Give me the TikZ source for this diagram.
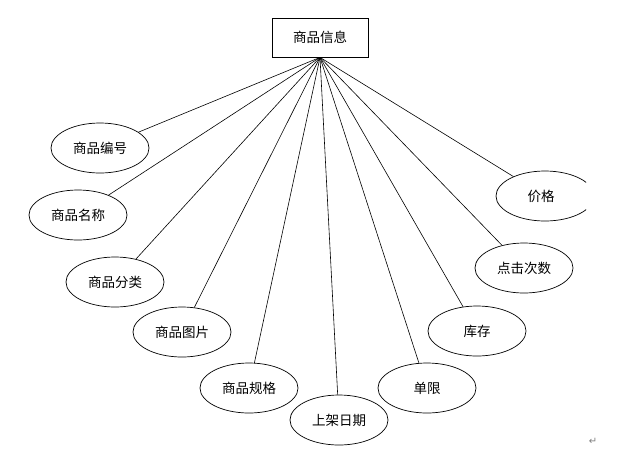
\documentclass[tikz,border=0pt]{standalone}
\usepackage{fontspec}
\newfontfamily\cjk{Noto Sans CJK SC}
\newfontfamily\dv{DejaVu Sans}
\usetikzlibrary{shapes.geometric}
\begin{document}
\begin{tikzpicture}[x=1pt,y=-1pt,
  attr/.style={ellipse,draw,line width=0.7pt,minimum width=98pt,minimum height=50pt,inner sep=0pt,font=\cjk\fontsize{13.5}{15}\selectfont},
  ent/.style={rectangle,draw,line width=0.8pt,minimum width=96pt,minimum height=39pt,inner sep=0pt,font=\cjk\fontsize{13.5}{15}\selectfont},
  conn/.style={line width=0.6pt}]
\useasboundingbox[fill=white] (0,0) rectangle (637,459);
\node[ent] (top) at (320,37.5) {商品信息};
\node[attr] (a1) at (100,148) {商品编号};
\node[attr] (a2) at (78,215) {商品名称};
\node[attr] (a3) at (115,282) {商品分类};
\node[attr] (a4) at (182,332) {商品图片};
\node[attr] (a5) at (249,388) {商品规格};
\node[attr] (a6) at (339,420) {上架日期};
\node[attr] (a7) at (427,388) {单限};
\node[attr] (a8) at (477,331) {库存};
\node[attr] (a9) at (524,268) {点击次数};
\node[attr,draw=none] (a10) at (545,196) {\hspace*{-8pt}价格};
\begin{scope}
  \clip (0,0) rectangle (586,459);
  \draw[line width=0.7pt] (a10.center) ellipse [x radius=49, y radius=25];
\end{scope}
\coordinate (apex) at (top.south);
\foreach \n in {a1,a2,a3,a4,a5,a6,a7,a8,a9,a10}
  \draw[conn] (apex) -- (\n);
\node[text=gray,font=\dv\fontsize{10}{10}\selectfont,inner sep=0pt] (pm) at (593,441) {↵};
\end{tikzpicture}
\end{document}
